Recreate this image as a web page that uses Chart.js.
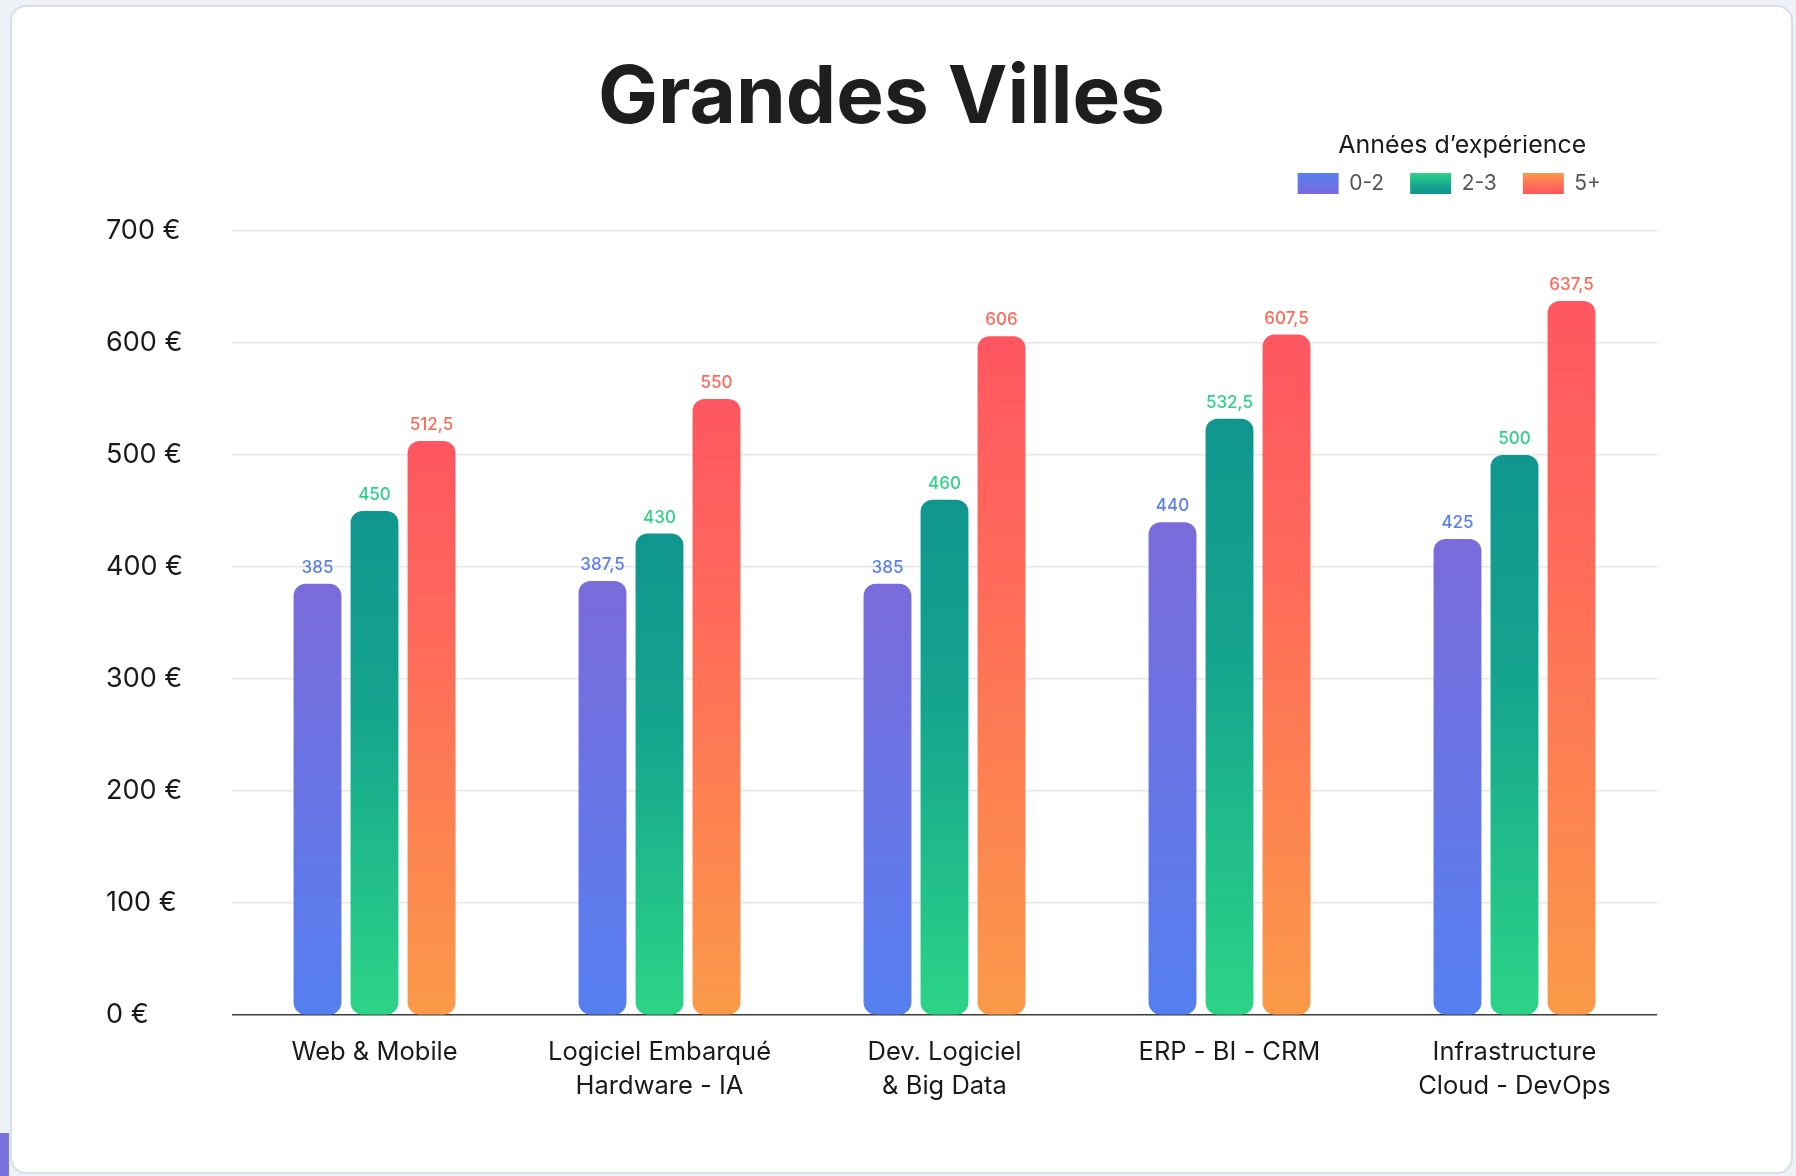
<!DOCTYPE html>
<html lang="fr">
<head>
<meta charset="utf-8">
<title>Grandes Villes</title>
<script src="https://cdn.jsdelivr.net/npm/chart.js@4.4.1/dist/chart.umd.min.js"></script>
<style>
  html, body { margin: 0; padding: 0; }
  body { width: 1796px; height: 1176px; background: #eef1f5; position: relative; overflow: hidden; }
  .card { position: absolute; left: 10px; top: 5px; width: 1783px; height: 1169px; background: #fff;
          border: 2px solid #d6dee8; border-radius: 16px; box-sizing: border-box; }
  .tab { position: absolute; left: 0; top: 1133px; width: 9px; height: 43px; background: #7a72df; }
  #wrap { position: absolute; left: 0; top: 0; width: 1796px; height: 1176px; }
</style>
</head>
<body>
<div class="card"></div>
<div class="tab"></div>
<div id="wrap"><canvas id="chart"></canvas></div>
<script>
// Salaires journaliers par domaine et par ancienneté
const categories = [
  'Web & Mobile',
  ['Logiciel Embarqué', 'Hardware - IA'],
  ['Dev. Logiciel', '& Big Data'],
  'ERP - BI - CRM',
  ['Infrastructure', 'Cloud - DevOps']
];
const seriesNames = ['0-2', '2-3', '5+'];
const junior    = [385, 387.5, 385, 440, 425];
const confirmed = [450, 430, 460, 532.5, 500];
const senior    = [512.5, 550, 606, 607.5, 637.5];
const yTicks = [0, 100, 200, 300, 400, 500, 600, 700];

// Dégradés des barres (haut -> bas)
const barStops = [
  [[0, '#7b6bdb'], [1, '#557ff0']],
  [[0, '#10968f'], [0.4, '#15a48e'], [1, '#2cd487']],
  [[0, '#ff5661'], [0.35, '#ff6a5a'], [1, '#fb9a48']]
];
const labelColors = ['#5a7fec', '#2fd28a', '#ff6a5a'];

const FONT = 'Inter, "Open Sans", sans-serif';
Chart.defaults.font.family = FONT;

const fmt = v => String(v).replace('.', ',');

function makeGradient(ctx2d, top, bottom, stops) {
  const g = ctx2d.createLinearGradient(0, top, 0, bottom);
  stops.forEach(([o, c]) => g.addColorStop(o, c));
  return g;
}

function barFill(stops) {
  return (c) => {
    const chart = c.chart;
    if (!chart.chartArea || c.type !== 'data' || !c.parsed) return stops[0][1];
    const y = chart.scales.y;
    return makeGradient(chart.ctx, y.getPixelForValue(c.parsed.y), y.getPixelForValue(0), stops);
  };
}

// Étiquettes de valeur au-dessus des barres
const valueLabels = {
  id: 'valueLabels',
  afterDatasetsDraw(chart) {
    const { ctx } = chart;
    ctx.save();
    ctx.font = '500 17px ' + FONT;
    ctx.textAlign = 'center';
    ctx.textBaseline = 'middle';
    chart.data.datasets.forEach((ds, di) => {
      chart.getDatasetMeta(di).data.forEach((bar, i) => {
        ctx.fillStyle = labelColors[di];
        ctx.fillText(fmt(ds.data[i]), bar.x, bar.y - 16);
      });
    });
    ctx.restore();
  }
};

// Légende : décalage vers la gauche et pastilles en dégradé
const legendStyle = {
  id: 'legendStyle',
  afterLayout(chart) {
    const lg = chart.legend;
    lg.left -= 30;
    lg.right -= 30;
  },
  beforeDraw(chart) {
    const lg = chart.legend;
    if (!lg || !lg.legendItems) return;
    lg.legendItems.forEach((item, i) => {
      const hb = lg.legendHitBoxes[i];
      if (!hb) return;
      const stops = barStops[item.datasetIndex];
      // sens inversé pour les pastilles
      const rev = stops.map(([o, c]) => [1 - o, c]).reverse();
      item.fillStyle = makeGradient(chart.ctx, hb.top, hb.top + hb.height, rev);
    });
  }
};

const datasets = [junior, confirmed, senior].map((data, i) => ({
  label: seriesNames[i],
  data,
  backgroundColor: barFill(barStops[i]),
  borderRadius: 12,
  borderSkipped: false,
  categoryPercentage: 0.6,
  barPercentage: 0.84
}));

new Chart(document.getElementById('chart'), {
  type: 'bar',
  data: { labels: categories, datasets },
  plugins: [valueLabels, legendStyle],
  options: {
    responsive: true,
    maintainAspectRatio: false,
    animation: false,
    events: [],
    layout: { padding: { left: 106, right: 139, top: 63, bottom: 52 } },
    plugins: {
      title: {
        display: true,
        text: 'Grandes Villes',
        color: '#1e1e1e',
        font: { size: 80, weight: '700', lineHeight: 0.9 },
        padding: 0
      },
      // espace vide entre la légende et la zone de tracé
      subtitle: {
        display: true,
        text: '',
        weight: 900,
        font: { size: 10, lineHeight: 2.7 },
        padding: 0
      },
      legend: {
        position: 'top',
        align: 'end',
        title: {
          display: true,
          text: 'Années d’expérience',
          color: '#1a1a1a',
          font: { size: 25 },
          padding: { top: -2, bottom: -16 }
        },
        labels: {
          boxWidth: 41,
          boxHeight: 21,
          padding: 26,
          color: '#555',
          font: { size: 21 },
          generateLabels(chart) {
            return chart.data.datasets.map((ds, i) => ({
              text: ds.label,
              fillStyle: barStops[i][0][1],
              strokeStyle: 'rgba(255,255,255,0)',
              lineWidth: 0,
              fontColor: '#555',
              hidden: false,
              datasetIndex: i
            }));
          }
        }
      },
      tooltip: { enabled: false }
    },
    scales: {
      x: {
        grid: { display: false, drawTicks: false },
        border: { display: false },
        ticks: {
          color: '#1a1a1a',
          font: { size: 25.5, lineHeight: 1.35 },
          padding: 20,
          maxRotation: 0,
          autoSkip: false
        }
      },
      y: {
        min: 0,
        max: 700,
        afterBuildTicks(scale) { scale.ticks = yTicks.map(v => ({ value: v })); },
        afterFit(scale) { scale.width = 126; },
        border: { display: false },
        grid: {
          drawTicks: false,
          color: c => (c.tick && c.tick.value === 0 ? '#3a3a3a' : '#e8e8e8'),
          lineWidth: 1.5
        },
        ticks: {
          crossAlign: 'far',
          padding: 0,
          color: '#1a1a1a',
          font: { size: 27 },
          callback: v => v + ' €'
        }
      }
    }
  }
});
</script>
</body>
</html>
